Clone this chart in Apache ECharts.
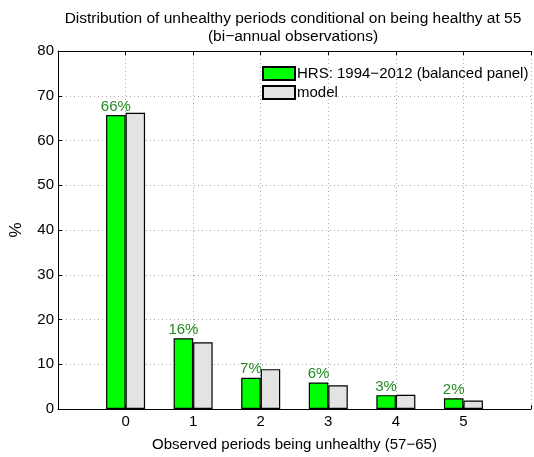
<!DOCTYPE html>
<html>
<head>
<meta charset="utf-8">
<script src="https://cdn.jsdelivr.net/npm/echarts@6/dist/echarts.min.js"></script>
<style>
  html, body { margin: 0; padding: 0; background: #fff; }
  #chart { width: 534px; height: 457px; }
</style>
</head>
<body>
<div id="chart"></div>
<script>
// Number of unhealthy bi-annual observations between ages 57 and 65
const periods = [0, 1, 2, 3, 4, 5];
// Share of individuals (%) — data vs. model
const hrsShare = [65.7, 15.8, 7.0, 5.9, 3.1, 2.4];
const modelShare = [66.2, 14.9, 8.9, 5.3, 3.2, 1.9];
const yTicks = [0, 10, 20, 30, 40, 50, 60, 70, 80];

const FONT = '"Liberation Sans", Arial, Helvetica, sans-serif';

const chart = echarts.init(document.getElementById('chart'), null, { renderer: 'canvas' });

const xBase = {
  type: 'value',
  min: -1,
  max: 6,
  interval: 1,
  axisLine: { show: true, onZero: false, lineStyle: { color: '#000', width: 1 } },
  axisTick: { show: true, inside: true, length: 4, lineStyle: { color: '#000' } }
};

chart.setOption({
  animation: false,
  backgroundColor: '#fff',
  textStyle: { fontFamily: FONT },
  title: {
    text: 'Distribution of unhealthy periods conditional on being healthy at 55\n(bi\u2212annual observations)',
    left: 288,
    textAlign: 'center',
    top: 5,
    textStyle: { fontFamily: FONT, fontSize: 15.5, fontWeight: 'normal', color: '#000', lineHeight: 18 }
  },
  legend: {
    orient: 'vertical',
    left: 257,
    top: 61,
    itemWidth: 32,
    itemHeight: 13,
    itemGap: 4,
    icon: 'rect',
    textStyle: { fontFamily: FONT, fontSize: 15, color: '#000', padding: [0, 0, 0, -3] },
    data: ['HRS: 1994\u22122012 (balanced panel)', 'model']
  },
  grid: { left: 51, right: -1, top: 51, bottom: 35, containLabel: false },
  xAxis: [
    Object.assign({}, xBase, {
      position: 'bottom',
      name: 'Observed periods being unhealthy (57\u221265)',
      nameLocation: 'middle',
      nameGap: 28,
      nameTextStyle: { fontFamily: FONT, fontSize: 15, color: '#000' },
      axisLabel: {
        color: '#000', fontFamily: FONT, fontSize: 15, margin: 5,
        formatter: v => (periods.indexOf(v) >= 0 ? String(v) : '')
      },
      splitLine: { show: true, lineStyle: { color: '#aaa', type: [1, 3], width: 1 } }
    }),
    Object.assign({}, xBase, {
      position: 'top',
      axisLabel: { show: false },
      splitLine: { show: false }
    })
  ],
  yAxis: {
    type: 'value',
    min: yTicks[0],
    max: yTicks[yTicks.length - 1],
    interval: 10,
    name: '%',
    nameLocation: 'middle',
    nameGap: 33,
    nameRotate: 90,
    nameTextStyle: { fontFamily: FONT, fontSize: 17, color: '#000' },
    axisLine: { show: true, onZero: false, lineStyle: { color: '#000', width: 1 } },
    axisTick: { show: true, inside: true, length: 4, lineStyle: { color: '#000' } },
    axisLabel: { color: '#000', fontFamily: FONT, fontSize: 15, margin: 4 },
    splitLine: { show: true, lineStyle: { color: '#aaa', type: [1, 3], width: 1 } }
  },
  series: [
    {
      name: 'HRS: 1994\u22122012 (balanced panel)',
      type: 'bar',
      xAxisIndex: 0,
      barWidth: 19.5,
      barGap: '0%',
      data: periods.map((p, i) => [p, hrsShare[i]]),
      itemStyle: { color: '#00ff00', borderColor: '#000', borderWidth: 1.2 },
      label: {
        show: true,
        position: 'top',
        distance: 1,
        color: '#228b22',
        fontFamily: FONT,
        fontSize: 15,
        formatter: p => Math.round(p.value[1]) + '%'
      },
      z: 3
    },
    {
      name: 'model',
      type: 'bar',
      xAxisIndex: 0,
      barWidth: 19.5,
      barGap: '0%',
      data: periods.map((p, i) => [p, modelShare[i]]),
      itemStyle: { color: '#e3e3e3', borderColor: '#000', borderWidth: 1.2 },
      z: 2
    }
  ]
});
</script>
</body>
</html>
